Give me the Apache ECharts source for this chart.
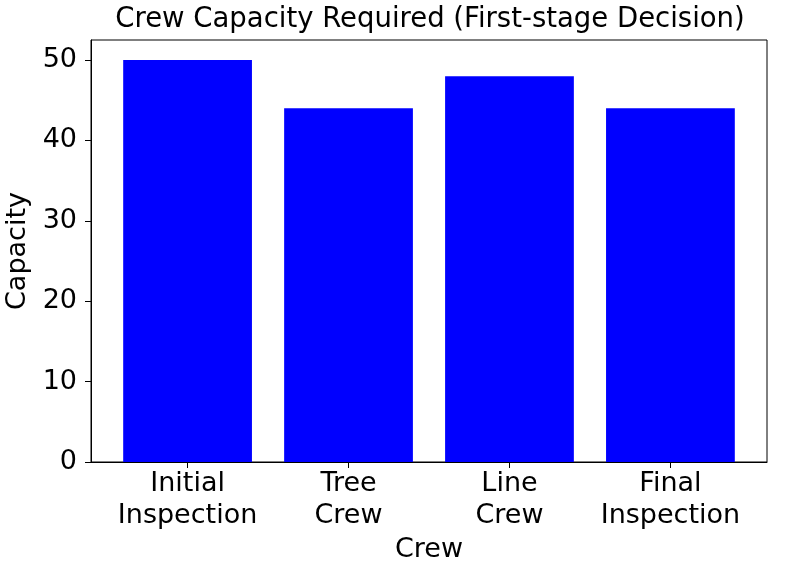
<!DOCTYPE html>
<html>
<head>
<meta charset="utf-8">
<script src="https://cdn.jsdelivr.net/npm/echarts@6/dist/echarts.min.js"></script>
<style>html,body{margin:0;padding:0;background:#fff}#chart{width:793px;height:565px}</style>
</head>
<body>
<div id="chart"></div>
<script>
var categories = ['Initial\nInspection', 'Tree\nCrew', 'Line\nCrew', 'Final\nInspection'];
var capacities = [50, 44, 48, 44];
var yTicks = [0, 10, 20, 30, 40, 50];
var titleText = 'Crew Capacity Required (First-stage Decision)';

var FONT = 'DejaVu Sans';
var FS = 27;
var chart = echarts.init(document.getElementById('chart'), null, {renderer: 'canvas'});
var catIdx = categories.map(function (c, i) { return i; });
chart.setOption({
  animation: false,
  backgroundColor: '#fff',
  title: {
    text: titleText,
    left: 425, top: 1, textAlign: 'center',
    textStyle: {fontFamily: FONT, fontSize: 27.5, fontWeight: 'normal', color: '#000'}
  },
  grid: {left: 91, right: 26, top: 40, bottom: 103, containLabel: false, outerBoundsMode: 'none',
    show: true, borderColor: '#000', borderWidth: 1, backgroundColor: 'transparent'},
  xAxis: {
    type: 'value', min: -0.6, max: 3.6,
    name: 'Crew', nameLocation: 'middle', nameGap: 74,
    nameTextStyle: {fontFamily: FONT, fontSize: FS, color: '#000'},
    axisLine: {show: true, onZero: false, lineStyle: {color: '#000', width: 1}},
    axisTick: {show: true, length: 6, lineStyle: {color: '#000', width: 1}, customValues: catIdx},
    axisLabel: {
      show: true, margin: 6, customValues: catIdx,
      fontFamily: FONT, fontSize: FS, color: '#000', lineHeight: 32,
      formatter: function (v) { return categories[Math.round(v)]; }
    },
    splitLine: {show: false}
  },
  yAxis: {
    type: 'value', min: 0, max: 52.5,
    name: 'Capacity', nameLocation: 'middle', nameGap: 53, nameRotate: 90,
    nameTextStyle: {fontFamily: FONT, fontSize: FS, color: '#000'},
    axisLine: {show: true, onZero: false, lineStyle: {color: '#000', width: 1}},
    axisTick: {show: true, length: 6, lineStyle: {color: '#000', width: 1}, customValues: yTicks},
    axisLabel: {show: true, margin: 14, customValues: yTicks, fontFamily: FONT, fontSize: FS, color: '#000'},
    splitLine: {show: false}
  },
  series: [{
    type: 'bar',
    data: capacities.map(function (v, i) { return [catIdx[i], v]; }),
    barWidth: '80%',
    itemStyle: {color: '#0000ff'}
  }]
});
</script>
</body>
</html>
